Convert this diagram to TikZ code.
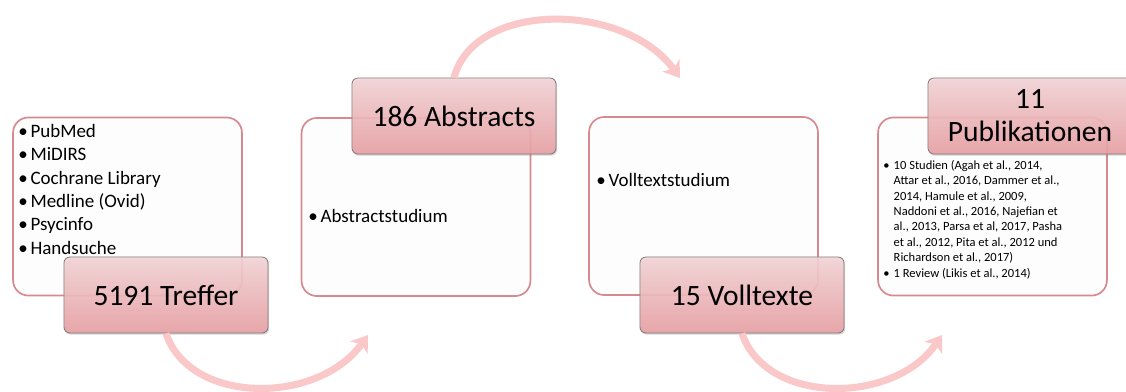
\documentclass[tikz,border=0pt]{standalone}
\usepackage{fontspec}
\setmainfont{Carlito}
\usetikzlibrary{arrows.meta,shadows}
\definecolor{boxline}{RGB}{214,138,142}
\definecolor{boxfill}{RGB}{253,253,253}
\definecolor{tagtop}{RGB}{246,214,216}
\definecolor{tagbottom}{RGB}{235,160,164}
\definecolor{tagline}{RGB}{130,125,125}
\definecolor{arcpink}{RGB}{250,200,200}
\newcommand{\itm}{\textbullet\kern2pt}

\begin{document}
\begin{tikzpicture}[x=0.025cm, y=-0.025cm,
    stagebox/.style={rectangle, rounded corners=0.38cm, draw=boxline, line width=1.2pt, fill=boxfill, minimum width=5.72cm, minimum height=4.45cm, inner sep=0pt},
    tagbox/.style={rectangle, rounded corners=0.15cm, draw=tagline, line width=0.6pt, top color=tagtop, bottom color=tagbottom, fill opacity=0.88, text opacity=1, minimum width=5.1cm, minimum height=1.9cm, font=\fontsize{21}{23.5}\selectfont, align=center, drop shadow={opacity=0.35, shadow xshift=0.8pt, shadow yshift=-1.2pt}},
    listtext/.style={inner sep=0pt, anchor=north west, align=left, font=\fontsize{13.5}{16.6}\selectfont},
    itemtext/.style={inner sep=0pt, anchor=west, font=\fontsize{13.5}{16.6}\selectfont},
    smalltext/.style={inner sep=0pt, anchor=north west, font=\fontsize{8.9}{11}\selectfont},
    flowarc/.style={draw=arcpink, line width=5pt, -{Stealth[length=11pt, width=15pt, inset=3pt]}}]
    \useasboundingbox (0,0) rectangle (1126,391);
    % Place nodes
    \node [stagebox] (B1) at (127.5,206.5) {};
    \node [stagebox] (B2) at (416,207) {};
    \node [stagebox] (B3) at (703.5,206) {};
    \node [stagebox] (B4) at (992.5,206.5) {};
    \node [listtext] (L1) at (18,124) {\itm PubMed\\\itm MiDIRS\\\itm Cochrane Library\\\itm Medline (Ovid)\\\itm Psycinfo\\\itm Handsuche};
    \node [itemtext] (L2) at (308,216) {\itm Abstractstudium};
    \node [itemtext] (L3) at (596,180) {\itm Volltextstudium};
    \node [smalltext] (L4) at (883,158) {\begin{tabular}{@{}l@{\hspace{3pt}}l@{}}
        \textbullet & 10 Studien (Agah et al., 2014,\\
        & Attar et al., 2016, Dammer et al.,\\
        & 2014, Hamule et al., 2009,\\
        & Naddoni et al., 2016, Najefian et\\
        & al., 2013, Parsa et al, 2017, Pasha\\
        & et al., 2012, Pita et al., 2012 und\\
        & Richardson et al., 2017)\\
        \textbullet & 1 Review (Likis et al., 2014)
      \end{tabular}};
    \node [tagbox] (T1) at (166,295) {5191 Treffer};
    \node [tagbox] (T2) at (454,116) {186 Abstracts};
    \node [tagbox] (T3) at (742,295) {15 Volltexte};
    \node [tagbox] (T4) at (1030,116) {11\\Publikationen};
    \coordinate (E1) at (368,335);
    \coordinate (E2) at (680,78);
    \coordinate (E3) at (942,335);
    \path[flowarc] (T1.south) .. controls (190,405) and (318,405) .. (E1);
    \path[flowarc] (T2.north) .. controls (475,0) and (625,2) .. (E2);
    \path[flowarc] (T3.south) .. controls (766,405) and (894,405) .. (E3);
\end{tikzpicture}
\end{document}
